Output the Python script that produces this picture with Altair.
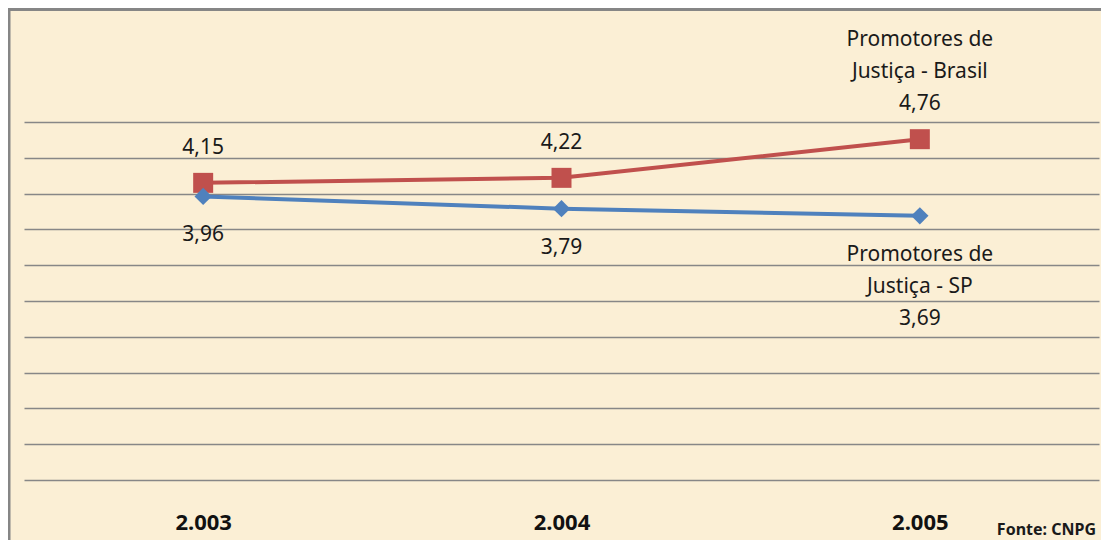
import altair as alt
import pandas as pd

years = ["2.003", "2.004", "2.005"]
series = ["Promotores de Justiça - Brasil", "Promotores de Justiça - SP"]
brasil = [4.15, 4.22, 4.76]
sp = [3.96, 3.79, 3.69]
heads = ["Promotores de\nJustiça - Brasil", "Promotores de\nJustiça - SP"]
grid_values = [0, 0.5, 1, 1.5, 2, 2.5, 3, 3.5, 4, 4.5, 5]
source_note = ["Fonte: CNPG"]

colors = ["#C0504D", "#4F81BD"]
font = "Noto Sans"

rows = []
for name, vals, head in [(series[0], brasil, heads[0]), (series[1], sp, heads[1])]:
    for i, (yr, v) in enumerate(zip(years, vals)):
        rows.append({
            "year": yr, "series": name, "value": v,
            "label": f"{v:.2f}".replace(".", ","),
            "head": head if i == len(years) - 1 else "",
        })
df = pd.DataFrame(rows)

W, H = 1075, 358

base = alt.Chart(df).encode(
    x=alt.X("year:O", sort=years, scale=alt.Scale(type="point", padding=0.5),
            axis=alt.Axis(title=None, labelAngle=0, ticks=False, domain=False,
                          labelFontSize=22, labelFontWeight="bold", labelPadding=32,
                          labelColor="#111111", labelFont=font, grid=False)),
    y=alt.Y("value:Q", scale=alt.Scale(domain=[0, 5], nice=False, zero=True),
            axis=alt.Axis(title=None, values=grid_values, labels=False, ticks=False,
                          domain=False, grid=True, gridColor="#878787",
                          gridWidth=1.6, gridOpacity=1)),
)

lines = base.mark_line(strokeWidth=4).encode(
    color=alt.Color("series:N", scale=alt.Scale(domain=series, range=colors), legend=None)
)

b = base.transform_filter(alt.datum.series == series[0])
s = base.transform_filter(alt.datum.series == series[1])

squares = b.mark_point(shape="square", filled=True, size=400, color=colors[0], opacity=1)
diamonds = s.mark_point(shape="diamond", filled=True, size=300, color=colors[1], opacity=1)

txt_style = dict(fontSize=21, font=font, lineBreak="\n", lineHeight=32, color="#1a1a1a")

txt_b = b.mark_text(baseline="bottom", dy=-25, **txt_style).encode(text="label:N")
head_b = b.mark_text(baseline="bottom", dy=-89, **txt_style).encode(text="head:N")

txt_s_first = s.transform_filter(alt.datum.head == "").mark_text(
    baseline="top", dy=28, **txt_style).encode(text="label:N")
head_s = s.mark_text(baseline="top", dy=28, **txt_style).encode(text="head:N")
txt_s_last = s.transform_filter(alt.datum.head != "").mark_text(
    baseline="top", dy=92, **txt_style).encode(text="label:N")

note_df = pd.DataFrame({"t": source_note})
note = alt.Chart(note_df).mark_text(
    align="right", baseline="middle", fontSize=16, fontWeight="bold", font=font,
    color="#1a1a1a"
).encode(x=alt.value(1072), y=alt.value(408), text="t:N")

left_border = alt.Chart(note_df).mark_rule(color="#868686", strokeWidth=3).encode(
    x=alt.value(-15), y=alt.value(-114), y2=alt.value(430)
)
top_border = alt.Chart(note_df).mark_rule(color="#868686", strokeWidth=3).encode(
    x=alt.value(-16), x2=alt.value(1080), y=alt.value(-112.5)
)

chart = alt.layer(
    lines, squares, diamonds, txt_b, head_b, txt_s_first, head_s, txt_s_last,
    note, left_border, top_border
).properties(
    width=W, height=H,
    autosize=alt.AutoSizeParams(type="none"),
    padding={"left": 16, "top": 114, "right": 2, "bottom": 60},
    background="#FBEFD5",
).configure_view(stroke=None)

chart.save("out.html", embed_options={"renderer": "svg", "actions": False})
